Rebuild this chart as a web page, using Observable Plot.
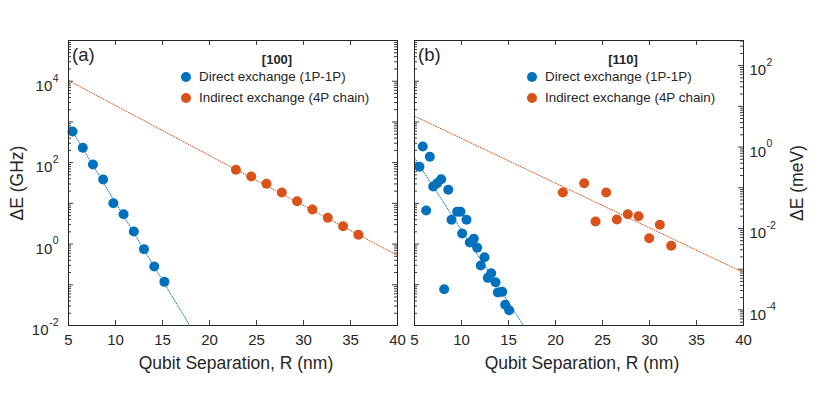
<!DOCTYPE html>
<html><head><meta charset="utf-8">
<script src="https://cdn.jsdelivr.net/npm/d3@7"></script>
<script src="https://cdn.jsdelivr.net/npm/@observablehq/plot@0.6"></script>
<style>
body{margin:0;background:#fff;}
#wrap{position:relative;width:830px;height:395px;font-family:"Liberation Sans",Arial,Helvetica,sans-serif;color:#262626;overflow:hidden;}
#wrap svg{position:absolute;top:0;overflow:visible;}
.t{position:absolute;white-space:nowrap;line-height:1;}
.c{transform:translate(-50%,-50%);}
.r{transform:translate(-50%,-50%) rotate(-90deg);}
.m{transform:translate(0,-50%);}
.dot{position:absolute;width:10px;height:10px;border-radius:50%;transform:translate(-50%,-50%);}
</style></head><body><div id="wrap"></div>
<script>
// ---- data ----
const xTicks = [5, 10, 15, 20, 25, 30, 35, 40];
const ghzLabelExps = [-2, 0, 2, 4];
const mevLabelExps = [-4, -2, 0, 2];
const GHZ_PER_MEV = 241.8;
const seriesNames = ["Direct exchange (1P-1P)", "Indirect exchange (4P chain)"];
const colors = ["#0072BD", "#D95319"];

// panel (a) [100]
const aDirectR = [5.43, 6.52, 7.60, 8.69, 9.77, 10.86, 11.95, 13.03, 14.12, 15.20];
const aDirectE = [582, 231, 90, 38.5, 10.1, 5.4, 2.03, 0.75, 0.28, 0.118];
const aIndirectR = [22.81, 24.44, 26.06, 27.69, 29.32, 30.95, 32.58, 34.21, 35.84];
const aIndirectE = [66.7, 45.6, 30.2, 18.5, 11.3, 7.06, 4.41, 2.74, 1.69];
const aDirectFitR = [5, 17.9];
const aDirectFitE = [851, 0.01];
const aIndirectFitR = [5, 40];
const aIndirectFitE = [10400, 0.525];

// panel (b) [110]
const bDirectR = [5.88, 6.63, 5.53, 7.84, 7.41, 6.99, 8.59, 6.24, 9.54, 9.89, 8.94, 10.53, 10.07, 11.31, 10.88, 11.67, 12.45, 12.05, 13.16, 12.80, 13.62, 13.86, 14.33, 8.16, 14.65, 15.07];
const bDirectE = [249, 139, 79.1, 39.2, 31.3, 25.9, 21.5, 6.67, 6.19, 6.19, 3.94, 3.94, 1.82, 1.35, 1.09, 0.81, 0.475, 0.297, 0.192, 0.148, 0.116, 0.0646, 0.0671, 0.0778, 0.0322, 0.0237];
const bIndirectR = [20.78, 23.05, 25.39, 24.26, 26.52, 27.69, 28.83, 31.10, 29.97, 32.31];
const bIndirectE = [18.45, 31.3, 18.45, 3.58, 4.01, 5.41, 4.83, 2.97, 1.39, 0.906];
const bDirectFitR = [5, 16.6];
const bDirectFitE = [131.8, 0.01];
const bIndirectFitR = [5, 40];
const bIndirectFitE = [1390, 0.2];

// ---- build ----
const FW = 329, FH = 285;
const INK = "#262626";
const yDomain = [1e-2, 1e5];
const pts = (R, E) => R.map((r, i) => ({r, e: E[i]}));
const isDecade = v => Math.abs(Math.log10(v) - Math.round(Math.log10(v))) < 1e-6;
const ghzTicks = d3.scaleLog().domain(yDomain).ticks();
const mevDomain = yDomain.map(v => v / GHZ_PER_MEV);
const mevTicksG = d3.scaleLog().domain(mevDomain).ticks().map(v => ({v, g: v * GHZ_PER_MEV}))
  .filter(d => d.g >= yDomain[0] && d.g <= yDomain[1]);

function yTickMarks(side, ticks) { // ticks: [{g, major}]
  const inset = side === "left" ? "insetRight" : "insetLeft";
  return [
    Plot.tickY(ticks.filter(d => d.major), {y: "g", [inset]: FW - 5, stroke: INK, strokeWidth: 0.9}),
    Plot.tickY(ticks.filter(d => !d.major), {y: "g", [inset]: FW - 3, stroke: INK, strokeWidth: 0.9})
  ];
}
function expLabels(side, exps, toG) {
  const marks = [];
  const groups = [exps.filter(e => e >= 0), exps.filter(e => e < 0)];
  groups.forEach((g, gi) => {
    if (!g.length) return;
    const data = g.map(e => ({e, g: toG(Math.pow(10, e))}));
    const expW = gi === 0 ? 6.2 : 10;
    if (side === "left") {
      marks.push(Plot.text(data, {y: "g", frameAnchor: "left", text: () => "10", textAnchor: "end", dx: -10 - expW, dy: 5, fontSize: 15, fill: INK}));
      marks.push(Plot.text(data, {y: "g", frameAnchor: "left", text: d => String(d.e), textAnchor: "end", dx: -10, dy: -3, fontSize: 10.5, fill: INK}));
    } else {
      marks.push(Plot.text(data, {y: "g", frameAnchor: "right", text: () => "10", textAnchor: "start", dx: 6, dy: 5, fontSize: 15, fill: INK}));
      marks.push(Plot.text(data, {y: "g", frameAnchor: "right", text: d => String(d.e), textAnchor: "start", dx: 23, dy: -3, fontSize: 10.5, fill: INK}));
    }
  });
  return marks;
}

function panel({left, width, mL, mR, direct, indirect, dFit, iFit, rightMeV, leftLabels, rightLabels}) {
  const ghzT = ghzTicks.map(g => ({g, major: isDecade(g)}));
  const rightT = rightMeV ? mevTicksG.map(d => ({g: d.g, major: isDecade(d.v)})) : ghzT;
  const marks = [
    ...yTickMarks("left", ghzT),
    ...yTickMarks("right", rightT),
    Plot.tickX(xTicks, {x: d => d, insetTop: FH - 5, stroke: INK, strokeWidth: 0.9}),
    Plot.tickX(xTicks, {x: d => d, insetBottom: FH - 5, stroke: INK, strokeWidth: 0.9}),
    Plot.line(iFit, {x: "r", y: "e", stroke: colors[1], strokeWidth: 1, strokeDasharray: "1,1.6"}),
    Plot.line(dFit, {x: "r", y: "e", stroke: colors[0], strokeWidth: 1, strokeDasharray: "1,1.6"}),
    Plot.dot(indirect, {x: "r", y: "e", r: 5, fill: colors[1]}),
    Plot.dot(direct, {x: "r", y: "e", r: 5, fill: colors[0]}),
    Plot.frame({stroke: INK, strokeWidth: 1}),
    Plot.text(xTicks, {x: d => d, frameAnchor: "bottom", text: d => String(d), dy: 19, fontSize: 15, fill: INK})
  ];
  if (leftLabels) marks.push(...expLabels("left", ghzLabelExps, v => v));
  if (rightLabels) marks.push(...expLabels("right", mevLabelExps, v => v * GHZ_PER_MEV));
  const svg = Plot.plot({
    width, height: 395, marginLeft: mL, marginRight: mR, marginTop: 40, marginBottom: 70,
    style: {fontFamily: '"Liberation Sans",Arial,sans-serif', background: "transparent", color: INK},
    x: {domain: [5, 40], axis: null},
    y: {type: "log", domain: yDomain, axis: null},
    marks
  });
  svg.style.left = left + "px";
  return svg;
}

const wrap = document.getElementById("wrap");
wrap.appendChild(panel({left: 0, width: 415, mL: 68, mR: 18,
  direct: pts(aDirectR, aDirectE), indirect: pts(aIndirectR, aIndirectE),
  dFit: pts(aDirectFitR, aDirectFitE), iFit: pts(aIndirectFitR, aIndirectFitE),
  rightMeV: false, leftLabels: true, rightLabels: false}));
wrap.appendChild(panel({left: 400, width: 430, mL: 14, mR: 87,
  direct: pts(bDirectR, bDirectE), indirect: pts(bIndirectR, bIndirectE),
  dFit: pts(bDirectFitR, bDirectFitE), iFit: pts(bIndirectFitR, bIndirectFitE),
  rightMeV: true, leftLabels: false, rightLabels: true}));

function addText(txt, x, y, cls, style) {
  const d = document.createElement("div");
  d.className = "t " + cls;
  d.textContent = txt;
  d.style.left = x + "px"; d.style.top = y + "px";
  Object.assign(d.style, style || {});
  wrap.appendChild(d);
}
function addDot(x, y, color) {
  const d = document.createElement("div");
  d.className = "dot"; d.style.left = x + "px"; d.style.top = y + "px"; d.style.background = color;
  wrap.appendChild(d);
}
addText("\u0394E (GHz)", 18, 183, "r", {fontSize: "17.5px"});
addText("\u0394E (meV)", 798, 183, "r", {fontSize: "17.5px"});
addText("Qubit Separation, R (nm)", 236, 364, "c", {fontSize: "17.5px"});
addText("Qubit Separation, R (nm)", 582, 364, "c", {fontSize: "17.5px"});
[["(a)", "[100]", 0], ["(b)", "[110]", 346]].forEach(([lab, dir, off]) => {
  addText(lab, 72 + off, 55, "m", {fontSize: "18.5px"});
  addText(dir, 277 + off, 59, "c", {fontSize: "13px", fontWeight: "bold"});
  seriesNames.forEach((s, i) => {
    addDot(186 + off, 77 + i * 21, colors[i]);
    addText(s, 199 + off, 77 + i * 21, "m", {fontSize: "13.4px"});
  });
});
</script></body></html>
